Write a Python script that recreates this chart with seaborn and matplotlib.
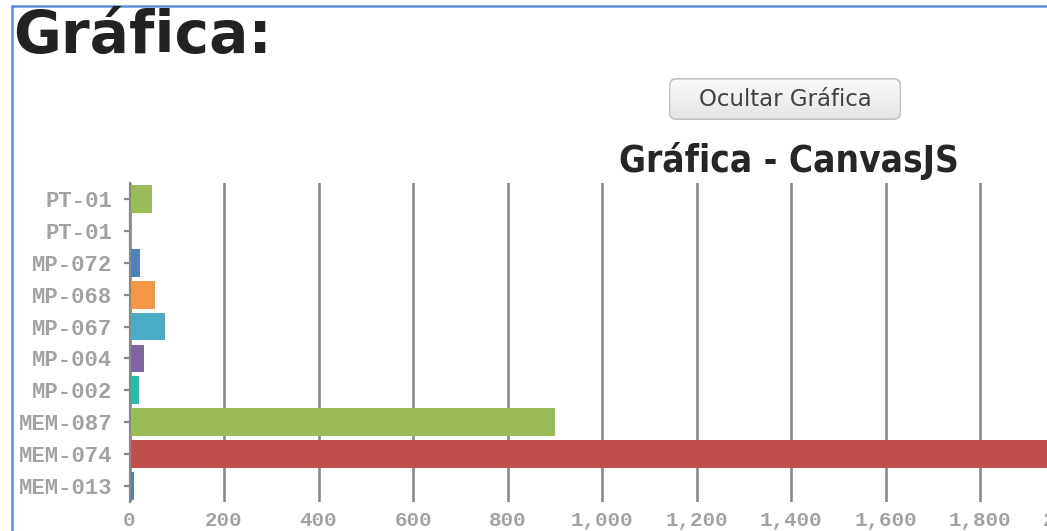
import matplotlib
matplotlib.use("Agg")
import matplotlib.pyplot as plt
from matplotlib.patches import FancyBboxPatch
from matplotlib.lines import Line2D
from matplotlib.ticker import FuncFormatter, MultipleLocator
import seaborn as sns
import pandas as pd
import numpy as np

# Data (top to bottom as listed on the axis)
codigos = ["PT-01", "PT-01", "MP-072", "MP-068", "MP-067",
           "MP-004", "MP-002", "MEM-087", "MEM-074", "MEM-013"]
cantidades = [47, 0, 22, 53, 76, 30, 21, 900, 2000, 10]
colores = ["#9BBB58", "#33558B", "#4F81BC", "#F79647", "#4AACC5",
           "#8064A1", "#23BFAA", "#9BBB58", "#C0504D", "#4F81BC"]

sns.set_theme(style="white")
plt.rcParams["font.family"] = ["DejaVu Sans"]

W, H = 1047, 531
fig = plt.figure(figsize=(W / 100, H / 100), dpi=100)
fig.patch.set_facecolor("white")

# plot area in pixel geometry
x0_px, top_px, bot_px = 129.5, 183, 502
px_per_unit = 0.4725
xmax = 2200
ax = fig.add_axes([x0_px / W, (H - bot_px) / H,
                   xmax * px_per_unit / W, (bot_px - top_px) / H])

df = pd.DataFrame({
    "fila": [f"r{i}" for i in range(len(codigos))],
    "cantidad": cantidades,
})
sns.barplot(data=df, x="cantidad", y="fila", hue="fila", palette=colores,
            orient="h", width=0.87, legend=False, linewidth=0,
            saturation=1, ax=ax, zorder=3)

ax.set_xlim(0, xmax)
ax.set_ylim(len(codigos) - 0.5, -0.5)
ax.set_yticks(range(len(codigos)))
ax.set_yticklabels(codigos)
ax.set_xlabel("")
ax.set_ylabel("")

grid_col = "#8a8a8a"
ax.xaxis.set_major_locator(MultipleLocator(200))
ax.xaxis.set_major_formatter(FuncFormatter(lambda v, p: f"{int(v):,}"))
ax.grid(axis="x", color=grid_col, linewidth=1.9, zorder=0)
ax.set_axisbelow(True)

for s in ["top", "right", "bottom"]:
    ax.spines[s].set_visible(False)
ax.spines["left"].set_color(grid_col)
ax.spines["left"].set_linewidth(1.6)
ax.spines["left"].set_zorder(4)

mono = "Liberation Mono"
lab_col = "#a2a2a2"
ax.tick_params(axis="x", length=5, width=1.9, color=grid_col, pad=1.5,
               labelsize=15, labelcolor=lab_col, direction="out")
ax.tick_params(axis="y", length=4.5, width=1.6, color=grid_col, pad=8,
               labelsize=16, labelcolor=lab_col, direction="out", left=True)
for lab in ax.get_xticklabels() + ax.get_yticklabels():
    lab.set_family(mono)
    lab.set_fontweight("bold")

# page heading
fig.text(13 / W, 1 - 53 / H, "Gráfica:", fontsize=42, fontweight="bold",
         color="#222222", va="baseline", ha="left")

# button with a soft vertical gradient
bx0, bx1, by0, by1 = 669, 901, 78, 120
btn_ax = fig.add_axes([bx0 / W, 1 - by1 / H, (bx1 - bx0) / W, (by1 - by0) / H])
btn_ax.set_axis_off()
grad = np.linspace(0, 1, 64).reshape(-1, 1)
img = btn_ax.imshow(grad, cmap=matplotlib.colors.LinearSegmentedColormap.from_list(
    "btn", ["#fbfbfb", "#e4e4e4"]), aspect="auto", extent=(0, 1, 0, 1), origin="upper")
btn = FancyBboxPatch((0.002, 0.02), 0.996, 0.96,
                     boxstyle="round,pad=0,rounding_size=0.03",
                     transform=btn_ax.transAxes, facecolor="none",
                     edgecolor="#c2c2c2", linewidth=1.2, mutation_aspect=5.5)
btn_ax.add_patch(btn)
img.set_clip_path(btn)
btn_ax.text(0.5, 0.5, "Ocultar Gráfica", fontsize=16.5, color="#404040",
            ha="center", va="center", transform=btn_ax.transAxes)

# chart title
fig.text(789 / W, 1 - 172 / H, "Gráfica - CanvasJS", fontsize=26.5,
         fontweight="bold", fontstretch="condensed", color="#262626",
         ha="center", va="baseline")

# frame
frame_col = "#5b8fd6"
fig.add_artist(Line2D([12 / W, 1], [1 - 6 / H, 1 - 6 / H], transform=fig.transFigure,
                      color=frame_col, linewidth=1.8))
fig.add_artist(Line2D([12 / W, 12 / W], [0, 1 - 6 / H], transform=fig.transFigure,
                      color=frame_col, linewidth=1.8))

fig.savefig("out.png", dpi=100)
